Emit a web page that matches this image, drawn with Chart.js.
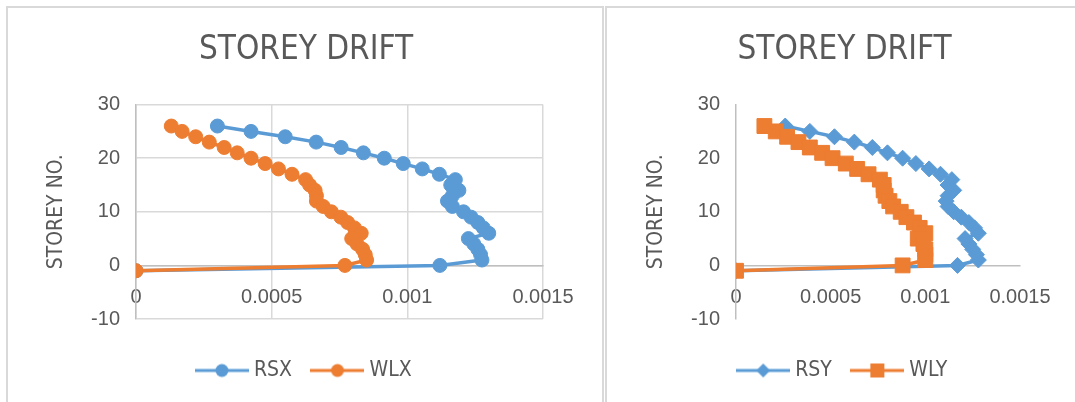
<!DOCTYPE html>
<html>
<head>
<meta charset="utf-8">
<script src="https://cdn.jsdelivr.net/npm/chart.js@4/dist/chart.umd.min.js"></script>
<style>
  body { margin: 0; background: #fff; overflow: hidden; width: 1075px; height: 402px; position: relative; }
  .box { position: absolute; top: 6px; height: 420px; border: 2px solid #d9d9d9; box-sizing: border-box; }
  canvas { position: absolute; }
</style>
</head>
<body>
<div class="box" style="left:6px; width:598px;"></div>
<div class="box" style="left:605px; width:500px;"></div>
<canvas id="leftChart" width="592" height="393" style="left:9px; top:9px;"></canvas>
<canvas id="rightChart" width="466" height="393" style="left:609px; top:9px;"></canvas>
<script>
// storey numbers, top to base
const storeys = [26, 25, 24, 23, 22, 21, 20, 19, 18, 17, 16, 15, 14, 13, 12, 11, 10, 9, 8, 7, 6, 5, 4, 3, 2, 1, 0, -1];

// drift values, same order as storeys
const rsx = [0.000300, 0.000424, 0.000550, 0.000664, 0.000756, 0.000838, 0.000915, 0.000985, 0.001055, 0.001118,
             0.001177, 0.001160, 0.001190, 0.001166, 0.001148, 0.001166, 0.001207, 0.001235, 0.001260, 0.001280,
             0.001300, 0.001225, 0.001245, 0.001260, 0.001270, 0.001275, 0.001120, 0];
const wlx = [0.000130, 0.000170, 0.000220, 0.000270, 0.000325, 0.000373, 0.000424, 0.000476, 0.000525, 0.000575,
             0.000625, 0.000640, 0.000660, 0.000665, 0.000665, 0.000690, 0.000720, 0.000755, 0.000780, 0.000805,
             0.000830, 0.000795, 0.000815, 0.000835, 0.000845, 0.000850, 0.000770, 0];
const rsy = [0.00026, 0.00039, 0.00052, 0.000625, 0.00072, 0.00080, 0.00088, 0.00095, 0.00102, 0.00108,
             0.00114, 0.00112, 0.00115, 0.00112, 0.00111, 0.00112, 0.00115, 0.00119, 0.00123, 0.00126,
             0.00128, 0.00121, 0.00123, 0.00125, 0.00127, 0.00128, 0.00117, 0];
const wly = [0.00015, 0.00021, 0.00027, 0.00033, 0.00039, 0.000455, 0.00051, 0.00058, 0.00064, 0.00070,
             0.00076, 0.00078, 0.00078, 0.00079, 0.00081, 0.00083, 0.00087, 0.00090, 0.00094, 0.00097,
             0.00100, 0.00096, 0.00099, 0.00100, 0.00100, 0.00100, 0.00088, 0];

const xTicks = [0, 0.0005, 0.001, 0.0015];
const yTicks = [-10, 0, 10, 20, 30];

const BLUE = '#5b9bd5';
const ORANGE = '#ed7d31';
const TEXT = '#595959';
const NARROW = "'Liberation Sans Narrow', 'DejaVu Sans Condensed', sans-serif";

// small picture of line + marker, used as legend symbol
function legendIcon(color, style) {
    const c = document.createElement('canvas');
    c.width = 54;
    c.height = 20;
    const ctx = c.getContext('2d');
    ctx.strokeStyle = color;
    ctx.fillStyle = color;
    ctx.lineWidth = 3;
    ctx.beginPath();
    ctx.moveTo(0, 10);
    ctx.lineTo(54, 10);
    ctx.stroke();
    ctx.beginPath();
    if (style === 'circle') {
        ctx.arc(27, 10, 6.5, 0, Math.PI * 2);
    } else if (style === 'rectRot') {
        ctx.moveTo(27, 3); ctx.lineTo(34, 10); ctx.lineTo(27, 17); ctx.lineTo(20, 10); ctx.closePath();
    } else {
        ctx.rect(20, 3, 14, 14);
    }
    ctx.fill();
    return c;
}

function toPoints(values) {
    return values.map((v, i) => ({ x: v, y: storeys[i] }));
}

function makeChart(id, series, showGrid) {
    const datasets = series.map((s, i) => ({
        label: s.name,
        data: toPoints(s.values),
        borderColor: s.color,
        backgroundColor: s.color,
        borderWidth: 3.5,
        pointStyle: s.style,
        pointRadius: s.radius,
        pointBorderWidth: 1,
        pointHoverRadius: s.radius,
        order: series.length - i   // later series drawn on top
    }));

    return new Chart(document.getElementById(id), {
        type: 'line',
        data: { datasets },
        options: {
            responsive: false,
            animation: false,
            layout: { padding: { left: 60, right: id === 'leftChart' ? 58 : 55, top: 0, bottom: 11 } },
            plugins: {
                title: {
                    display: true,
                    text: 'STOREY DRIFT',
                    color: TEXT,
                    font: { family: NARROW, size: 33, weight: 'normal' },
                    padding: { top: 22, bottom: 34 }
                },
                legend: {
                    position: 'bottom',
                    title: { display: true, text: '', font: { size: 10 }, padding: { top: 5, bottom: 0 } },
                    labels: {
                        usePointStyle: true,
                        pointStyleWidth: 43,
                        padding: 24,
                        color: TEXT,
                        font: { family: NARROW, size: 21 },
                        generateLabels: chart => chart.data.datasets.map((ds, i) => ({
                            text: ds.label,
                            pointStyle: legendIcon(ds.borderColor, ds.pointStyle),
                            fillStyle: ds.borderColor,
                            strokeStyle: ds.borderColor,
                            lineWidth: 0,
                            fontColor: TEXT,
                            datasetIndex: i
                        }))
                    }
                },
                tooltip: { enabled: false }
            },
            scales: {
                x: {
                    type: 'linear',
                    position: { y: 0 },
                    min: 0,
                    max: 0.0015,
                    afterBuildTicks: scale => { scale.ticks = xTicks.map(v => ({ value: v })); },
                    border: { display: true, color: '#bfbfbf', width: 1.5 },
                    grid: { display: showGrid, color: '#d9d9d9', lineWidth: 1.5, drawTicks: false },
                    ticks: {
                        padding: 20,
                        color: TEXT,
                        maxRotation: 0,
                        font: { family: "'Liberation Sans', Arial, sans-serif", size: 20 },
                        callback: v => String(Number(v.toFixed(6)))
                    }
                },
                y: {
                    type: 'linear',
                    min: -10,
                    max: 30,
                    afterBuildTicks: scale => { scale.ticks = yTicks.map(v => ({ value: v })); },
                    afterFit: scale => { scale.width = 67; },
                    border: { display: true, color: '#bfbfbf', width: 1.5 },
                    grid: { display: showGrid, color: '#d9d9d9', lineWidth: 1.5, drawTicks: false },
                    ticks: {
                        padding: 16,
                        color: TEXT,
                        font: { family: "'Liberation Sans', Arial, sans-serif", size: 20 }
                    },
                    title: {
                        display: true,
                        text: 'STOREY NO.',
                        color: TEXT,
                        font: { family: NARROW, size: 21 },
                        padding: { top: -25, bottom: 0 }
                    }
                }
            }
        }
    });
}

makeChart('leftChart', [
    { name: 'RSX', values: rsx, color: BLUE, style: 'circle', radius: 7 },
    { name: 'WLX', values: wlx, color: ORANGE, style: 'circle', radius: 7 }
], true);

makeChart('rightChart', [
    { name: 'RSY', values: rsy, color: BLUE, style: 'rectRot', radius: 8 },
    { name: 'WLY', values: wly, color: ORANGE, style: 'rect', radius: 10.5 }
], false);
</script>
</body>
</html>
